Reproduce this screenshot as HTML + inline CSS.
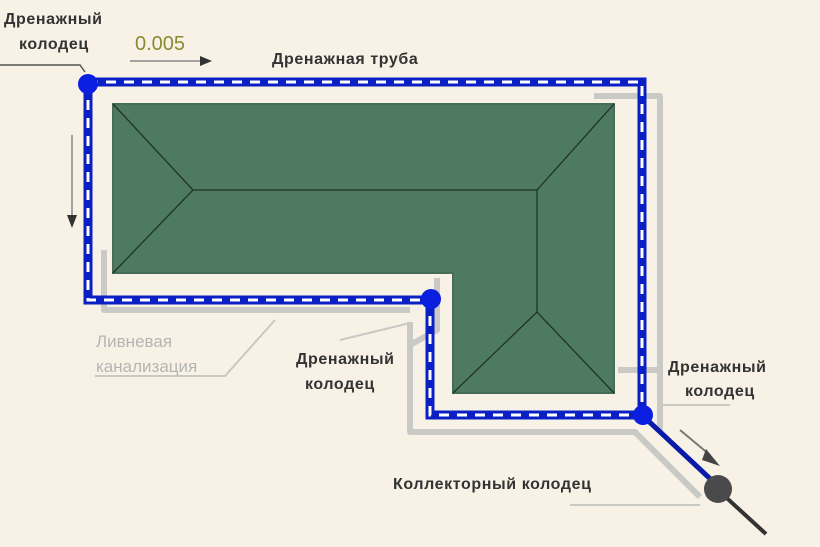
<!DOCTYPE html>
<html><head><meta charset="utf-8"><style>
html,body{margin:0;padding:0;background:#f8f2e6;}
svg{display:block}
text{font-family:"Liberation Sans",sans-serif;}
</style></head><body>
<svg width="820" height="547" viewBox="0 0 820 547">
<rect width="820" height="547" fill="#f8f2e6"/>
<g fill="none" stroke="#c9c9c6" stroke-width="6" stroke-linejoin="round">
<path d="M104 250 V310 H410"/>
<path d="M410 322 V432 H635 L700 497"/>
<path d="M594 96 H660 V430"/>
<path d="M618 370 H660"/>
<path d="M437 278 L437 330 L410 345"/>
</g>
<path d="M113 104 H614 V393 H453 V273 H113 Z" fill="#4f7a62" stroke="#456d57" stroke-width="2"/>
<g stroke="#1f3326" stroke-width="1.3" fill="none">
<path d="M113 104 L193 190 L113 273"/>
<path d="M193 190 H537 L614 104"/>
<path d="M537 190 V312"/>
<path d="M453 393 L537 312 L614 393"/>
</g>
<g fill="none" stroke-linejoin="miter">
<path d="M88 82 H642 V415 H430 V300 H88 Z" stroke="#0a1fc4" stroke-width="9"/>
<path d="M88 82 H642 V415 H430 V300 H88 Z" stroke="#ffffff" stroke-width="3" stroke-dasharray="10 8"/>
</g>
<path d="M642 415 L720 488" stroke="#0a1aa8" stroke-width="5"/>
<path d="M718 490 L766 534" stroke="#333" stroke-width="4"/>
<circle cx="88" cy="84" r="10" fill="#0a1fe0"/>
<circle cx="431" cy="299" r="10" fill="#0a1fe0"/>
<circle cx="643" cy="415" r="10" fill="#0a1fe0"/>
<circle cx="718" cy="489" r="14" fill="#4a4a4c"/>
<g stroke="#555" stroke-width="1.5" fill="none">
<path d="M0 65 H80 L85 72"/>
</g>
<g stroke="#c8c8c4" stroke-width="2" fill="none">
<path d="M95 376 H225 L275 320"/>
<path d="M340 340 L410 323"/>
<path d="M660 405 L668 405 H730"/>
<path d="M570 505 H700"/>
</g>
<line x1="130" y1="61" x2="200" y2="61" stroke="#888" stroke-width="1.5"/>
<polygon points="200,56 212,61 200,66" fill="#333"/>
<line x1="72" y1="135" x2="72" y2="215" stroke="#888" stroke-width="1.5"/>
<polygon points="67,215 77,215 72,228" fill="#333"/>
<line x1="680" y1="430" x2="710" y2="455" stroke="#777" stroke-width="2"/>
<polygon points="706,449 720,466 702,460" fill="#444"/>
<g font-size="16" font-weight="bold" fill="#333" letter-spacing="0.6">
<text x="4" y="24">Дренажный</text>
<text x="19" y="49">колодец</text>
<text x="135" y="50" fill="#8a8a30" font-size="20" font-weight="normal" letter-spacing="0">0.005</text>
<text x="272" y="64">Дренажная труба</text>
<text x="96" y="347" fill="#b5b5b2" font-weight="normal" font-size="17" letter-spacing="0">Ливневая</text>
<text x="96" y="372" fill="#b5b5b2" font-weight="normal" font-size="17" letter-spacing="0">канализация</text>
<text x="296" y="364">Дренажный</text>
<text x="305" y="389">колодец</text>
<text x="668" y="372">Дренажный</text>
<text x="685" y="396">колодец</text>
<text x="393" y="489">Коллекторный колодец</text>
</g>
</svg>
</body></html>
